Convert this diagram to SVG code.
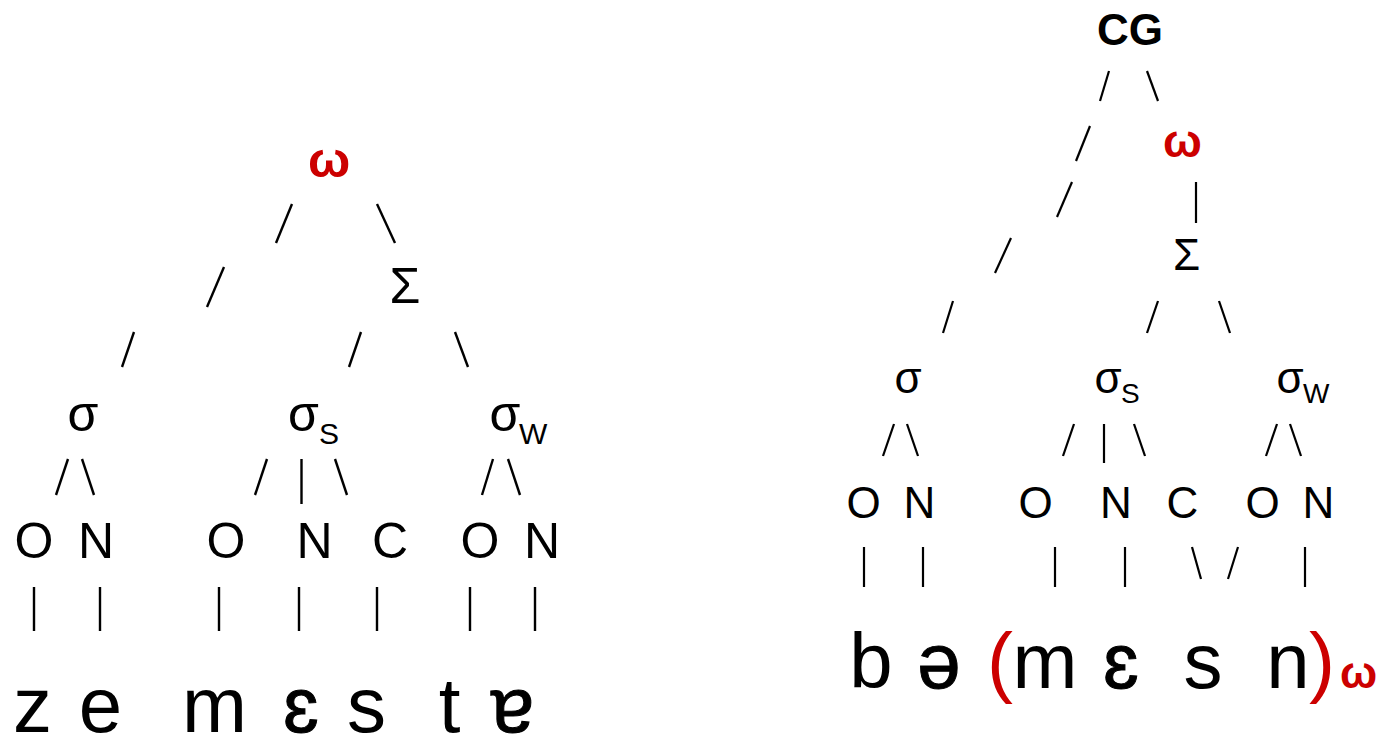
<svg xmlns="http://www.w3.org/2000/svg" width="1378" height="738" viewBox="0 0 1378 738">
  <style>
    text { font-family: "Liberation Sans", Arial, sans-serif; fill: #000; }
    .n50 { font-size: 50px; text-anchor: middle; }
    .n44 { font-size: 44px; text-anchor: middle; }
    .sub30 { font-size: 30px; }
    .sub28 { font-size: 28px; }
    .seg { font-size: 78px; text-anchor: middle; }
    .ipa { stroke: #000; stroke-width: 1px; }
    .red { fill: #cc0000; }
    .bold { font-weight: bold; }
    .edge line { stroke: #000; stroke-width: 2.4; stroke-linecap: butt; }
    .edge.r line { stroke-width: 2.2; }
  </style>

  <rect width="1378" height="738" fill="#fff"/>

  <!-- Left tree: prosodic word with a foot on the right -->
  <g id="left-tree">
    <g id="L-omega"><text class="n50 bold red" x="329" y="177">ω</text></g>
    <g id="L-foot"><text class="n50" x="405" y="303">Σ</text></g>
    <g id="L-syl1"><text class="n50" x="83" y="431">σ</text></g>
    <g id="L-sylS"><text class="n50" x="303.5" y="431">σ</text><text class="sub30" x="319" y="444">S</text></g>
    <g id="L-sylW"><text class="n50" x="505" y="431">σ</text><text class="sub30" x="519" y="444">W</text></g>
    <g id="L-O1"><text class="n50" x="34" y="558">O</text></g>
    <g id="L-N1"><text class="n50" x="96" y="558">N</text></g>
    <g id="L-O2"><text class="n50" x="226" y="558">O</text></g>
    <g id="L-N2"><text class="n50" x="314.5" y="558">N</text></g>
    <g id="L-C2"><text class="n50" x="390" y="558">C</text></g>
    <g id="L-O3"><text class="n50" x="480" y="558">O</text></g>
    <g id="L-N3"><text class="n50" x="542" y="558">N</text></g>
    <g id="L-segments">
      <text class="seg" x="32.5" y="732">z</text>
      <text class="seg" x="100.5" y="732">e</text>
      <text class="seg" x="214.5" y="732">m</text>
      <text class="seg ipa" x="301" y="732">ɛ</text>
      <text class="seg" x="366.5" y="732">s</text>
      <text class="seg" x="449.5" y="732">t</text>
      <text class="seg ipa" x="512.5" y="732">ɐ</text>
    </g>
  </g>

  <g id="left-connectors" class="edge">
    <line x1="292" y1="204" x2="276" y2="243"/>
    <line x1="377" y1="204" x2="395" y2="243"/>
    <line x1="224" y1="267" x2="207" y2="307"/>
    <line x1="134" y1="332" x2="122" y2="367"/>
    <line x1="361" y1="332" x2="349" y2="367"/>
    <line x1="455" y1="332" x2="468" y2="367"/>
    <line x1="68" y1="459" x2="56" y2="495"/>
    <line x1="82" y1="459" x2="94" y2="495"/>
    <line x1="267" y1="459" x2="255" y2="495"/>
    <line x1="301.5" y1="459" x2="301.5" y2="504"/>
    <line x1="335" y1="459" x2="347" y2="495"/>
    <line x1="493" y1="459" x2="482" y2="495"/>
    <line x1="508" y1="459" x2="520" y2="495"/>
    <line x1="34" y1="587" x2="34" y2="631"/>
    <line x1="100" y1="587" x2="100" y2="631"/>
    <line x1="219" y1="587" x2="219" y2="631"/>
    <line x1="299" y1="587" x2="299" y2="631"/>
    <line x1="377" y1="587" x2="377" y2="631"/>
    <line x1="470" y1="587" x2="470" y2="631"/>
    <line x1="535" y1="587" x2="535" y2="631"/>
  </g>

  <!-- Right tree: clitic group above the prosodic word -->
  <g id="right-tree">
    <g id="R-CG"><text class="n44 bold" x="1130" y="45">CG</text></g>
    <g id="R-omega"><text class="n44 bold red" x="1182.5" y="157" style="font-size:46px">ω</text></g>
    <g id="R-foot"><text class="n44" x="1186.5" y="270">Σ</text></g>
    <g id="R-syl1"><text class="n44" x="908" y="393">σ</text></g>
    <g id="R-sylS"><text class="n44" x="1108" y="393">σ</text><text class="sub28" x="1121" y="403">S</text></g>
    <g id="R-sylW"><text class="n44" x="1290" y="393">σ</text><text class="sub28" x="1303" y="403">W</text></g>
    <g id="R-O1"><text class="n44" x="863.5" y="518">O</text></g>
    <g id="R-N1"><text class="n44" x="919.5" y="518">N</text></g>
    <g id="R-O2"><text class="n44" x="1035.5" y="518">O</text></g>
    <g id="R-N2"><text class="n44" x="1116" y="518">N</text></g>
    <g id="R-C2"><text class="n44" x="1182.5" y="518">C</text></g>
    <g id="R-O3"><text class="n44" x="1262.5" y="518">O</text></g>
    <g id="R-N3"><text class="n44" x="1318.5" y="518">N</text></g>
    <g id="R-segments">
      <text class="seg" x="871" y="688">b</text>
      <text class="seg ipa" x="939" y="688">ə</text>
      <text class="seg red" x="1000" y="688">(</text>
      <text class="seg" x="1045" y="688">m</text>
      <text class="seg ipa" x="1121" y="688">ɛ</text>
      <text class="seg" x="1203" y="688">s</text>
      <text class="seg" x="1288" y="688">n</text>
      <text class="seg red" x="1322" y="688">)</text>
      <text class="bold red" x="1340" y="688" style="font-size:44px">ω</text>
    </g>
  </g>

  <g id="right-connectors" class="edge r">
    <line x1="1109" y1="71" x2="1100" y2="101"/>
    <line x1="1147" y1="71" x2="1158" y2="101"/>
    <line x1="1090" y1="126" x2="1076" y2="161"/>
    <line x1="1072" y1="182" x2="1057" y2="217"/>
    <line x1="1196" y1="182" x2="1196" y2="223"/>
    <line x1="1011" y1="238" x2="995" y2="273"/>
    <line x1="953" y1="301" x2="943" y2="333"/>
    <line x1="1158" y1="301" x2="1147" y2="333"/>
    <line x1="1219" y1="301" x2="1230" y2="333"/>
    <line x1="894" y1="424" x2="883" y2="456"/>
    <line x1="907" y1="424" x2="918" y2="456"/>
    <line x1="1074" y1="424" x2="1063" y2="456"/>
    <line x1="1104" y1="424" x2="1104" y2="463"/>
    <line x1="1134" y1="424" x2="1145" y2="456"/>
    <line x1="1277" y1="424" x2="1266" y2="456"/>
    <line x1="1290" y1="424" x2="1301" y2="456"/>
    <line x1="864" y1="547" x2="864" y2="587"/>
    <line x1="923" y1="547" x2="923" y2="587"/>
    <line x1="1055" y1="547" x2="1055" y2="587"/>
    <line x1="1125" y1="547" x2="1125" y2="587"/>
    <line x1="1192" y1="547" x2="1201" y2="579"/>
    <line x1="1238" y1="547" x2="1228" y2="579"/>
    <line x1="1305" y1="547" x2="1305" y2="587"/>
  </g>
</svg>
